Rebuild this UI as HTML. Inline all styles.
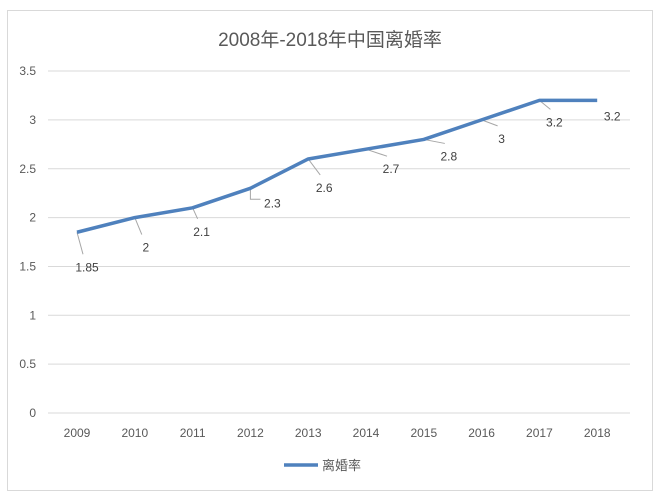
<!DOCTYPE html>
<html><head><meta charset="utf-8"><style>
body{margin:0;background:#fff;width:664px;height:498px;overflow:hidden;font-family:"Liberation Sans","Noto Sans CJK SC",sans-serif}
</style></head><body>
<svg id="c" width="664" height="498" font-family="Liberation Sans, Noto Sans CJK SC, sans-serif">
<rect x="7.5" y="10.5" width="645" height="480" fill="#fff" stroke="#d9d9d9"/>
<text x="330" y="46" text-anchor="middle" font-size="19" fill="#595959">2008年-2018年中国离婚率</text>
<g id="grid"></g><g id="ticks"></g><g id="xl"></g><g id="leaders"></g>
<path id="line" fill="none" stroke="#4f81bd" stroke-width="3.5" stroke-linejoin="round"/>
<g id="labels"></g>
<line x1="284" y1="465" x2="318" y2="465" stroke="#4f81bd" stroke-width="3.5"/>
<text x="322" y="470" font-size="13" fill="#595959">离婚率</text>
</svg>
<script>
const categories=["2009","2010","2011","2012","2013","2014","2015","2016","2017","2018"];
const values=[1.85,2,2.1,2.3,2.6,2.7,2.8,3,3.2,3.2];
const yTicks=[0,0.5,1,1.5,2,2.5,3,3.5];
const valueLabels=["1.85","2","2.1","2.3","2.6","2.7","2.8","3","3.2","3.2"];
const ns="http://www.w3.org/2000/svg";
const X=i=>77+i*57.8, Y=v=>413-v*97.7;
function mk(t,a,p){const e=document.createElementNS(ns,t);for(const k in a)e.setAttribute(k,a[k]);document.getElementById(p).appendChild(e);return e;}
yTicks.forEach(t=>{
 const g=mk("line",{x1:48,x2:630,y1:Y(t),y2:Y(t),stroke:"#d9d9d9","stroke-width":1},"grid");
 
 
 const l=mk("text",{x:36,y:Y(t)+4,"text-anchor":"end","font-size":12,fill:"#595959"},"ticks");
 l.textContent=String(t);
 
 
});
categories.forEach((c,i)=>{
 const l=mk("text",{x:X(i),y:437,"text-anchor":"middle","font-size":12,fill:"#595959"},"xl");
 l.textContent=c;
 
 
});
document.getElementById("line").setAttribute("d",values.map((v,i)=>(i?"L":"M")+X(i)+","+Y(v)).join(""));
const off=[[10,39],[11,34],[9,28],[22,19],[16,33],[25,24],[25,21],[20,23],[15,26],[15,20]];
values.forEach((v,i)=>{
 const px=X(i),py=Y(v),lx=px+off[i][0],ly=py+off[i][1];
 if(i<9){
  const ld=mk("polyline",{points:i==3?`${px},${py} ${px},${ly-8} ${lx-12},${ly-8}`:`${px},${py} ${lx-4},${ly-17}`,fill:"none",stroke:"#a6a6a6","stroke-width":1},"leaders");
  
  
 }
 const t=mk("text",{x:lx,y:ly,"text-anchor":"middle","font-size":12,fill:"#404040"},"labels");
 t.textContent=valueLabels[i];
 
 
});
</script>
</body></html>
